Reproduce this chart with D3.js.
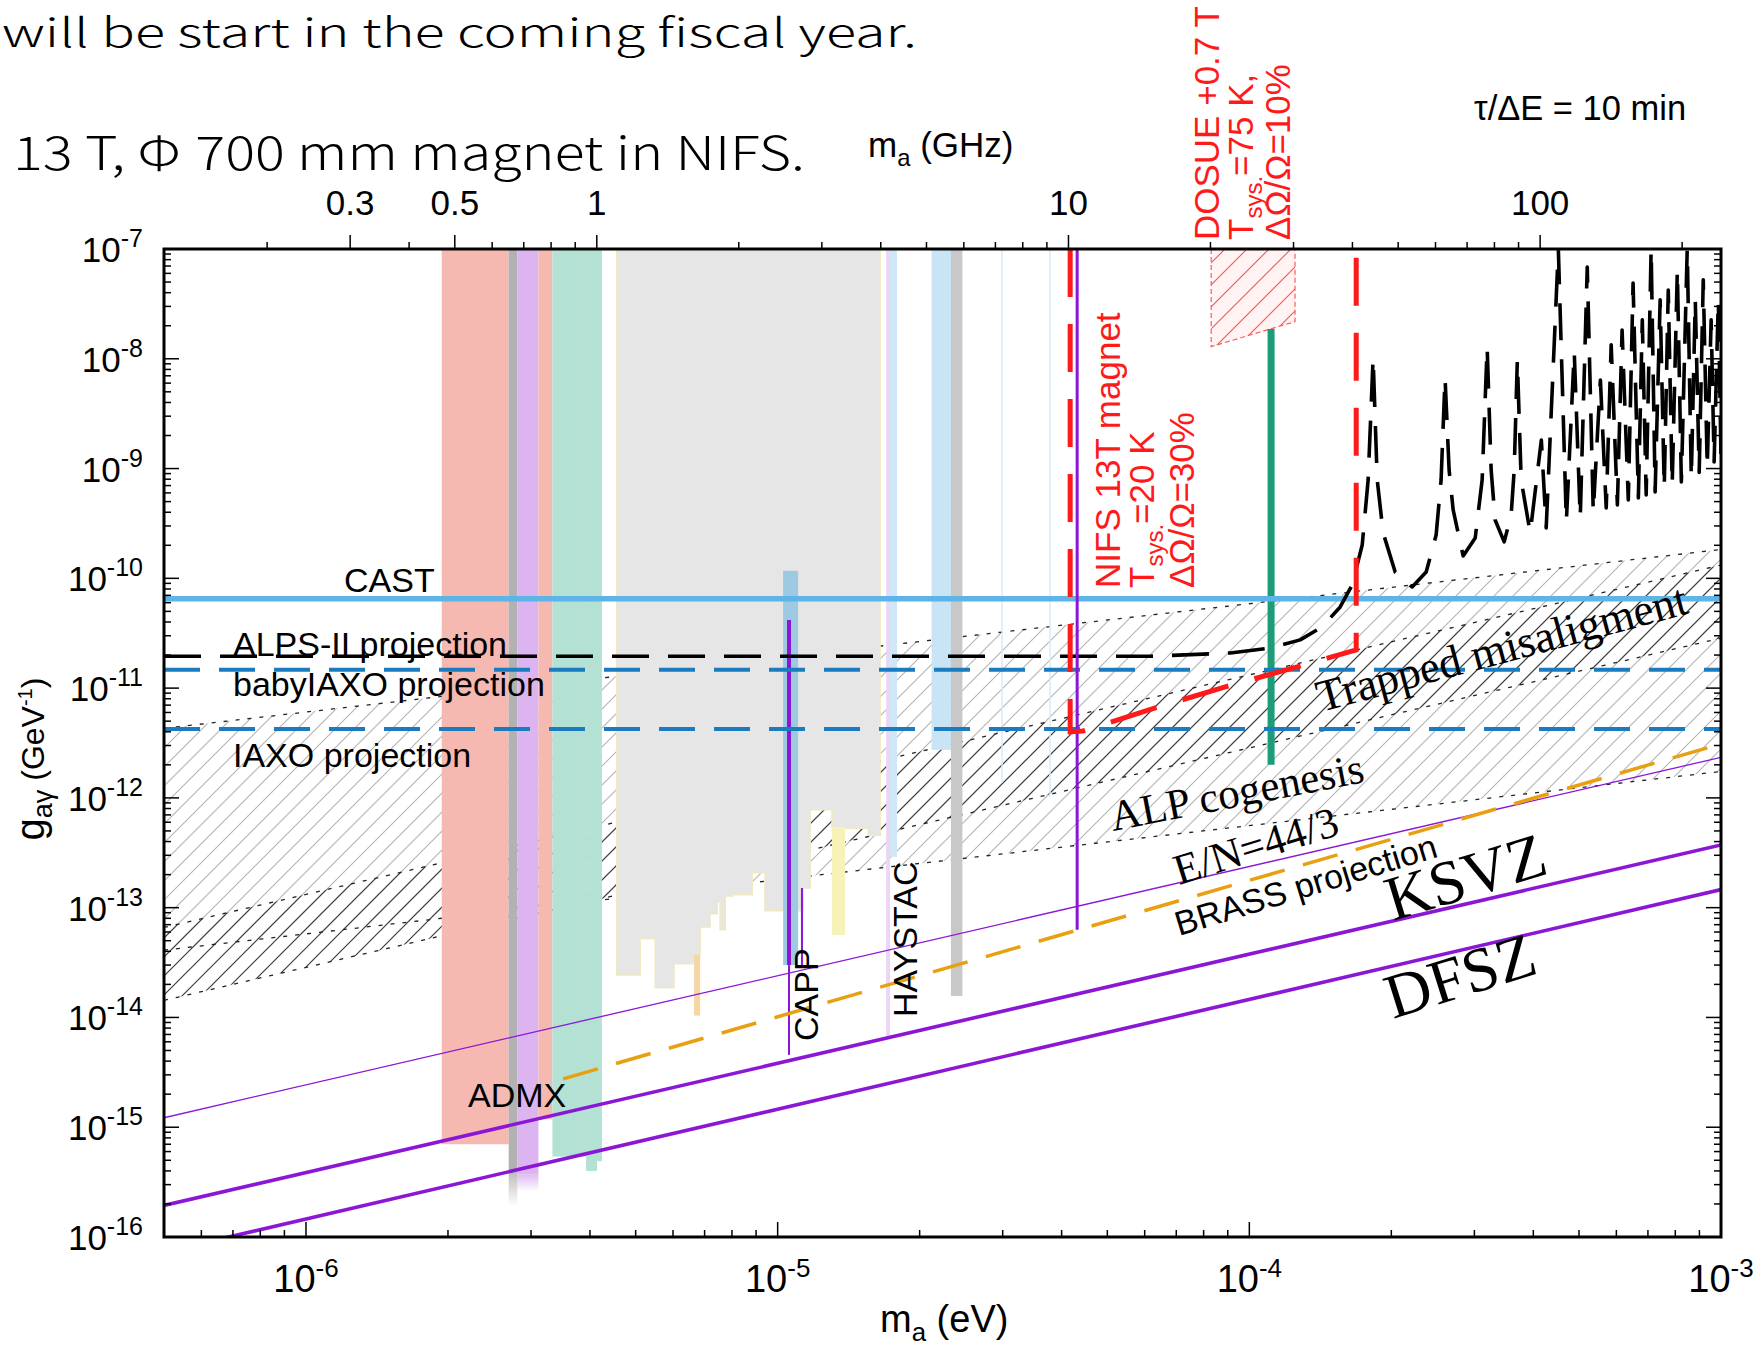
<!DOCTYPE html>
<html>
<head>
<meta charset="utf-8">
<title>Axion-photon coupling reach</title>
<script src="https://cdn.jsdelivr.net/npm/d3@7/dist/d3.min.js"></script>
<style>
  html,body{margin:0;padding:0;background:#fff;}
  svg{display:block;}
  .sans{font-family:"Liberation Sans",Arial,Helvetica,sans-serif;}
  .narrow{font-family:"Liberation Sans Narrow","Arial Narrow","Liberation Sans",sans-serif;}
  .serif{font-family:"Liberation Serif","Times New Roman",serif;}
  .jp{font-family:"Noto Sans CJK JP","Noto Sans",sans-serif;font-weight:300;}
</style>
</head>
<body>
<svg id="chart" width="1757" height="1346"></svg>
<script>
// ---------- axes ----------
const couplingDecades = [-7, -8, -9, -10, -11, -12, -13, -14, -15, -16];
const massDecades = [-6, -5, -4, -3];
const freqLabels = [0.3, 0.5, 1, 10, 100];
const EV_PER_GHZ = 4.1357e-6;

// ---------- haloscope exclusions near 1-4 ueV: [m_lo, m_hi, g_floor] ----------
const admxBands = [
  [1.94e-6, 2.69e-6, 7.0e-16],
  [2.69e-6, 2.805e-6, 4.0e-16],
  [2.805e-6, 3.11e-6, 3.7e-16],
  [3.11e-6, 3.33e-6, 1.18e-15],
  [3.33e-6, 3.925e-6, 5.4e-16],
  [3.925e-6, 4.14e-6, 4.0e-16],
  [4.14e-6, 4.24e-6, 4.9e-16]
];
const admxKinds = ["salmon", "grey", "lilac", "salmon", "teal", "teal", "teal"];
// faint tails below two of them: [m_lo, m_hi, g_from, g_to]
const admxTails = [
  [2.69e-6, 2.805e-6, 4.0e-16, 1.9e-16],
  [2.805e-6, 3.11e-6, 3.7e-16, 2.6e-16]
];
const admxTailKinds = ["grey", "lilac"];

// ---------- wide grey haloscope region, stepped floor ----------
const greyEdges = [4.56e-6, 5.11e-6, 5.50e-6, 6.03e-6, 6.65e-6, 6.85e-6, 7.19e-6, 7.44e-6, 7.55e-6,
  7.74e-6, 8.04e-6, 8.83e-6, 9.40e-6, 1.027e-5, 1.132e-5, 1.172e-5, 1.304e-5, 1.39e-5, 1.555e-5, 1.649e-5];
const greyFloor = [2.44e-14, 5.2e-14, 1.86e-14, 3.08e-14, 3.72e-14, 6.68e-14, 8.79e-14, 1.13e-13, 6.28e-14,
  1.28e-13, 1.31e-13, 2.08e-13, 9.35e-14, 9.35e-14, 1.51e-13, 7.78e-13, 5.29e-13, 5.29e-13, 4.56e-13];

// ---------- other haloscope strips: [m_lo, m_hi, g_top, g_floor] ----------
const strips = [
  [6.65e-6, 6.85e-6, 3.72e-14, 1.04e-14],
  [1.304e-5, 1.39e-5, 5.44e-13, 5.65e-14],
  [1.027e-5, 1.105e-5, 1.17e-10, 3.0e-14],
  [1.698e-5, 1.731e-5, 1e-7, 6.8e-15],
  [1.731e-5, 1.791e-5, 1e-7, 2.9e-13],
  [2.12e-5, 2.33e-5, 1e-7, 2.74e-12],
  [2.33e-5, 2.464e-5, 1e-7, 1.57e-14]
];
const stripKinds = ["orange", "yellow", "capp", "haystacPink", "haystacBlue", "blue", "grey2"];
// hairline exclusions: [m, g_top, g_floor]
const hairlines = [[2.99e-5, 1e-7, 1.37e-12], [3.78e-5, 1e-7, 1.02e-12]];

// ---------- CAPP traces: [m, g_top, g_floor] ----------
const cappMain = [1.057e-5, 4.18e-11, 3.0e-14];
const cappTail = [1.057e-5, 3.0e-14, 4.56e-15];
const cappSide = [1.126e-5, 1.51e-13, 3.0e-14];

// ---------- helioscope / LSW ----------
const castG = 6.5e-11;
const babyIaxoG = 1.47e-11;
const iaxoG = 4.25e-12;
const alpsMass = [5e-7, 6.16e-5, 9.11e-5, 1.107e-4, 1.282e-4, 1.427e-4, 1.558e-4, 1.652e-4, 1.735e-4, 1.786e-4,
  1.83e-4, 1.867e-4, 1.922e-4, 2.038e-4, 2.214e-4, 2.371e-4, 2.489e-4, 2.55e-4, 2.60e-4, 2.652e-4,
  2.705e-4, 2.84e-4, 3.012e-4, 3.116e-4, 3.193e-4, 3.256e-4, 3.32e-4, 3.47e-4, 3.59e-4, 3.644e-4,
  3.70e-4, 3.77e-4, 3.94e-4, 4.16e-4, 4.26e-4, 4.52e-4, 4.70e-4, 4.885e-4, 5.03e-4, 5.205e-4,
  5.36e-4, 5.55e-4, 5.71e-4, 5.85e-4, 6.03e-4, 6.17e-4, 6.36e-4, 6.51e-4, 6.68e-4, 6.81e-4,
  6.94e-4, 7.11e-4, 7.25e-4, 7.43e-4, 7.58e-4, 7.73e-4, 7.88e-4, 8.08e-4, 8.24e-4, 8.48e-4,
  8.65e-4, 8.82e-4, 8.99e-4, 9.17e-4, 9.35e-4, 9.53e-4, 9.67e-4, 9.87e-4, 1e-3];
const alpsG = [1.95e-11, 1.95e-11, 2.09e-11, 2.32e-11, 2.75e-11, 3.61e-11, 5.49e-11, 8.7e-11, 2.01e-10, 7.87e-10,
  1.02e-8, 7.87e-10, 2.59e-10, 1.14e-10, 8.35e-11, 1.14e-10, 2.48e-10, 7.87e-10, 6.68e-9, 9.7e-10,
  4.2e-10, 1.6e-10, 2.33e-10, 7.87e-10, 1.28e-8, 9.7e-10, 3.4e-10, 2.15e-10, 3.78e-10, 9.7e-10,
  9.75e-9, 7.87e-10, 2.59e-10, 1.82e-9, 2.88e-10, 1e-7, 3.27e-10, 1.15e-8, 3.55e-10, 6.86e-8,
  4.03e-10, 6.41e-9, 4.38e-10, 1.34e-8, 4.66e-10, 1.83e-8, 5.17e-10, 4.9e-8, 5.4e-10, 2.26e-8,
  5.75e-10, 1e-7, 6.12e-10, 3.44e-8, 6.65e-10, 4.23e-8, 7.1e-10, 6.44e-8, 7.55e-10, 1e-7,
  8.2e-10, 3.44e-8, 9.2e-10, 5.23e-8, 1.02e-9, 2.26e-8, 1.15e-9, 3.44e-8, 1.25e-9];

// ---------- model bands (log-log straight): values at the two mass ends ----------
const bandMass = [5e-7, 1e-3];
const trappedHi = [4.3e-12, 1.83e-10];
const trappedLo = [4.1e-14, 1.74e-12];
const cogenesisHi = [6.6e-14, 1.32e-10];
const cogenesisLo = [1.43e-14, 2.85e-11];
const ksvzG = [1.94e-16, 3.73e-13];
const dfszG = [7.3e-17, 1.46e-13];
const en443G = [1.22e-15, 2.34e-12];
const brassMass = [3.51e-6, 1e-3];
const brassG = [2.76e-15, 3.1e-12];

// ---------- projections of this proposal ----------
const nifsMass = [4.17e-5, 4.17e-5, 4.44e-5, 6.32e-5, 8.89e-5, 1.263e-4, 1.685e-4, 1.685e-4];
const nifsG = [1e-7, 3.99e-12, 4.07e-12, 6.6e-12, 1.026e-11, 1.56e-11, 2.23e-11, 1e-7];
const nifsLine = [4.315e-5, 1e-7, 6.28e-14];
const dosueMass = [8.3e-5, 1.25e-4];
const dosueFloor = [1.29e-8, 2.18e-8];
const dosueLine = [1.112e-4, 1.87e-8, 2.0e-12];

// ---------- drawing ----------
const L = 164, R = 1721, T = 249, B = 1237;
const x = d3.scaleLog().domain([5e-7, 1e-3]).range([L, R]);
const y = d3.scaleLog().domain([1e-7, 1e-16]).range([T, B]);

const colours = {
  salmon: "#f5b9b2", grey: "#b2b2b2", lilac: "#dcb4f0", teal: "#b3e1d4",
  orange: "#f6d6a4", yellow: "#f7f2b8", capp: "#9dcae2", haystacPink: "#ecd6f6",
  haystacBlue: "#cfe7f6", blue: "#c9e4f4", grey2: "#c8c8c8", region: "#e6e6e6",
  purple: "#8b16d6", red: "#ff1a1a", green: "#1b9e77", cast: "#5db4e6",
  iaxo: "#1a7bbf", brass: "#e8a010", hairline: "#d6ebf8"
};

const svg = d3.select("#chart");
const defs = svg.append("defs");
defs.append("clipPath").attr("id", "plotClip")
  .append("rect").attr("x", L).attr("y", T).attr("width", R - L).attr("height", B - T);

function hatch(id, colour, width, step, bg) {
  const p = defs.append("pattern").attr("id", id)
    .attr("patternUnits", "userSpaceOnUse").attr("width", step).attr("height", step);
  if (bg) p.append("rect").attr("width", step).attr("height", step).attr("fill", bg);
  p.append("path")
    .attr("d", `M-2,2 L2,-2 M0,${step} L${step},0 M${step - 2},${step + 2} L${step + 2},${step - 2}`)
    .attr("stroke", colour).attr("stroke-width", width).attr("fill", "none");
}
hatch("hatchLight", "#b4b4b4", 1.1, 19);
hatch("hatchDark", "#3c3c3c", 1.2, 19);
hatch("hatchRed", "#ff5050", 1.1, 22, "#fff3f3");

["grey", "lilac"].forEach(k => {
  const g = defs.append("linearGradient").attr("id", "fade-" + k)
    .attr("x1", 0).attr("y1", 0).attr("x2", 0).attr("y2", 1);
  g.append("stop").attr("offset", "0%").attr("stop-color", colours[k]).attr("stop-opacity", 0.9);
  g.append("stop").attr("offset", "100%").attr("stop-color", colours[k]).attr("stop-opacity", 0);
});

const plot = svg.append("g").attr("clip-path", "url(#plotClip)");
const lineGen = d3.line().x(d => x(d[0])).y(d => y(d[1]));
const areaGen = d3.area().x(d => x(d[0])).y0(d => y(d[1])).y1(d => y(d[2]));
const zip = (ms, a, b) => ms.map((m, i) => b ? [m, a[i], b[i]] : [m, a[i]]);

// cosmology bands (hatched, dotted borders)
plot.append("path").datum(zip(bandMass, trappedLo, trappedHi)).attr("d", areaGen).attr("fill", "url(#hatchLight)");
plot.append("path").datum(zip(bandMass, cogenesisLo, cogenesisHi)).attr("d", areaGen).attr("fill", "url(#hatchDark)");
[trappedHi, trappedLo, cogenesisHi, cogenesisLo].forEach(arr => {
  plot.append("path").datum(zip(bandMass, arr)).attr("d", lineGen)
    .attr("fill", "none").attr("stroke", "#222").attr("stroke-width", 1.3).attr("stroke-dasharray", "4,8");
});

// grey haloscope region with stepped floor
const greyPts = [[greyEdges[0], 1e-7]];
greyFloor.forEach((g, i) => { greyPts.push([greyEdges[i], g]); greyPts.push([greyEdges[i + 1], g]); });
greyPts.push([greyEdges[greyEdges.length - 1], 1e-7]);
plot.append("path").attr("d", lineGen(greyPts) + "Z")
  .attr("fill", colours.region).attr("stroke", "#efe9c2").attr("stroke-width", 1.5);

// ADMX-type bands
admxBands.forEach((b, i) => {
  plot.append("rect").attr("x", x(b[0])).attr("width", x(b[1]) - x(b[0]))
    .attr("y", y(1e-7)).attr("height", y(b[2]) - y(1e-7)).attr("fill", colours[admxKinds[i]]);
});
admxTails.forEach((b, i) => {
  plot.append("rect").attr("x", x(b[0])).attr("width", x(b[1]) - x(b[0]))
    .attr("y", y(b[2])).attr("height", y(b[3]) - y(b[2])).attr("fill", `url(#fade-${admxTailKinds[i]})`);
});
strips.forEach((b, i) => {
  plot.append("rect").attr("x", x(b[0])).attr("width", x(b[1]) - x(b[0]))
    .attr("y", y(b[2])).attr("height", y(b[3]) - y(b[2])).attr("fill", colours[stripKinds[i]]);
});
hairlines.forEach(h => {
  plot.append("line").attr("x1", x(h[0])).attr("x2", x(h[0])).attr("y1", y(h[1])).attr("y2", y(h[2]))
    .attr("stroke", colours.hairline).attr("stroke-width", 1.5);
});

// CAPP traces
function vline(v, colour, w, dash) {
  const l = plot.append("line").attr("x1", x(v[0])).attr("x2", x(v[0]))
    .attr("y1", y(v[1])).attr("y2", y(v[2])).attr("stroke", colour).attr("stroke-width", w);
  if (dash) l.attr("stroke-dasharray", dash);
  return l;
}
vline(cappMain, colours.purple, 4);
vline(cappTail, colours.purple, 2);
vline(cappSide, colours.purple, 2);

// DOSUE hatched box and green reach line
const dosuePts = [[dosueMass[0], 1e-7], [dosueMass[0], dosueFloor[0]], [dosueMass[1], dosueFloor[1]], [dosueMass[1], 1e-7]];
plot.append("path").attr("d", lineGen(dosuePts) + "Z").attr("fill", "url(#hatchRed)")
  .attr("stroke", "#ff5a5a").attr("stroke-width", 1.2).attr("stroke-dasharray", "5,3");
vline(dosueLine, colours.green, 7);

// helioscope / LSW horizontals
function hline(g, colour, w, dash) {
  const l = plot.append("line").attr("x1", L).attr("x2", R).attr("y1", y(g)).attr("y2", y(g))
    .attr("stroke", colour).attr("stroke-width", w);
  if (dash) l.attr("stroke-dasharray", dash);
}
hline(castG, colours.cast, 5.5);
hline(iaxoG, colours.iaxo, 4, "36,19");
hline(babyIaxoG, colours.iaxo, 4, "36,19");
plot.append("path").datum(zip(alpsMass, alpsG)).attr("d", lineGen)
  .attr("fill", "none").attr("stroke", "#000").attr("stroke-width", 3.6)
  .attr("stroke-dasharray", "37,19").attr("stroke-linejoin", "round");

// QCD axion lines and BRASS
plot.append("path").datum(zip(bandMass, ksvzG)).attr("d", lineGen).attr("stroke", colours.purple).attr("stroke-width", 3.6).attr("fill", "none");
plot.append("path").datum(zip(bandMass, dfszG)).attr("d", lineGen).attr("stroke", colours.purple).attr("stroke-width", 3.6).attr("fill", "none");
plot.append("path").datum(zip(bandMass, en443G)).attr("d", lineGen).attr("stroke", colours.purple).attr("stroke-width", 1.3).attr("fill", "none");
plot.append("path").datum(zip(brassMass, brassG)).attr("d", lineGen).attr("stroke", colours.brass)
  .attr("stroke-width", 3.5).attr("stroke-dasharray", "36,19").attr("fill", "none");

// NIFS projection
vline(nifsLine, colours.purple, 3);
plot.append("path").datum(zip(nifsMass, nifsG)).attr("d", lineGen)
  .attr("fill", "none").attr("stroke", colours.red).attr("stroke-width", 5)
  .attr("stroke-dasharray", "48,27");

// ---------- frame & ticks ----------
const axes = svg.append("g");
axes.append("rect").attr("x", L).attr("y", T).attr("width", R - L).attr("height", B - T)
  .attr("fill", "none").attr("stroke", "#000").attr("stroke-width", 3);

const gTicks = [];
for (let e = -16; e <= -7; e++) for (let k = 1; k <= 9; k++) {
  const v = k * Math.pow(10, e);
  if (v <= 1.0000001e-7) gTicks.push([v, k === 1]);
}
gTicks.forEach(([v, major]) => {
  const len = major ? 15 : 7;
  axes.append("line").attr("x1", L).attr("x2", L + len).attr("y1", y(v)).attr("y2", y(v)).attr("stroke", "#000").attr("stroke-width", 1.5);
  axes.append("line").attr("x1", R).attr("x2", R - len).attr("y1", y(v)).attr("y2", y(v)).attr("stroke", "#000").attr("stroke-width", 1.5);
});
const mTicks = [];
for (let e = -7; e <= -3; e++) for (let k = 1; k <= 9; k++) {
  const v = k * Math.pow(10, e);
  if (v >= 5e-7 * 0.999 && v <= 1e-3 * 1.0001) mTicks.push([v, k === 1]);
}
mTicks.forEach(([v, major]) => {
  const len = major ? 15 : 7;
  axes.append("line").attr("x1", x(v)).attr("x2", x(v)).attr("y1", B).attr("y2", B - len).attr("stroke", "#000").attr("stroke-width", 1.5);
});
const fTicks = [];
for (let e = -1; e <= 2; e++) for (let k = 1; k <= 9; k++) {
  const f = k * Math.pow(10, e);
  const m = f * EV_PER_GHZ;
  if (m >= 5e-7 && m <= 1e-3) fTicks.push(f);
}
fTicks.forEach(f => {
  const major = freqLabels.some(v => Math.abs(v - f) < 1e-9);
  const len = major ? 14 : 7;
  const px = x(f * EV_PER_GHZ);
  axes.append("line").attr("x1", px).attr("x2", px).attr("y1", T).attr("y2", T - len).attr("stroke", "#000").attr("stroke-width", 1.5);
});

function powLabel(px, py, exp, anchor, size, supSize, rise, cls) {
  const t = axes.append("text").attr("class", cls || "sans").attr("x", px).attr("y", py)
    .attr("text-anchor", anchor).attr("font-size", size);
  t.append("tspan").text("10");
  t.append("tspan").attr("dy", -rise).attr("font-size", supSize).text(String(exp));
}
couplingDecades.forEach(e => powLabel(143, y(Math.pow(10, e)) + 13, e, "end", 35, 25, 15));
massDecades.forEach(e => powLabel(x(Math.pow(10, e)), 1292, e, "middle", 38, 26, 15, "narrow"));
freqLabels.forEach(f => {
  axes.append("text").attr("class", "sans").attr("x", x(f * EV_PER_GHZ)).attr("y", 215)
    .attr("text-anchor", "middle").attr("font-size", 35).text(String(f));
});

// axis titles
function subLabel(px, py, main, sub, rest, size, cls) {
  const t = svg.append("text").attr("class", cls || "sans").attr("x", px).attr("y", py).attr("font-size", size);
  t.append("tspan").text(main);
  t.append("tspan").attr("dy", 9).attr("font-size", size * 0.68).text(sub);
  t.append("tspan").attr("dy", -9).text(rest);
  return t;
}
subLabel(868, 157, "m", "a", " (GHz)", 35);
subLabel(880, 1332, "m", "a", "  (eV)", 38, "narrow");
svg.append("text").attr("class", "sans").attr("x", 1474).attr("y", 120).attr("font-size", 34.5).text("τ/ΔE = 10 min");

const yl = svg.append("text").attr("class", "narrow").attr("transform", "translate(44,759) rotate(-90)")
  .attr("text-anchor", "middle").attr("font-size", 40);
yl.append("tspan").text("g");
yl.append("tspan").attr("dy", 8).attr("font-size", 27).text("aγ");
yl.append("tspan").attr("dy", -8).attr("font-size", 32).text(" (GeV");
yl.append("tspan").attr("dy", -12).attr("font-size", 20).text("-1");
yl.append("tspan").attr("dy", 12).attr("font-size", 32).text(")");

// ---------- in-plot labels ----------
const lab = svg.append("g");
function plain(px, py, str, size, cls, rot, colour) {
  return lab.append("text").attr("class", cls || "sans").attr("font-size", size)
    .attr("transform", `translate(${px},${py}) rotate(${rot || 0})`)
    .attr("fill", colour || "#000").text(str);
}
plain(344, 592, "CAST", 34);
plain(233, 656, "ALPS-II projection", 34);
plain(233, 696, "babyIAXO projection", 34);
plain(233, 767, "IAXO projection", 34);
plain(468, 1107, "ADMX", 34);
plain(818, 1041, "CAPP", 34, "sans", -90);
plain(917, 1017, "HAYSTAC", 34, "sans", -90);
plain(1321, 712, "Trapped misaligment", 45, "serif", -15);
plain(1113, 831, "ALP cogenesis", 43, "serif", -11);
plain(1179, 885, "E/N=44/3", 43, "serif", -17.4);
plain(1179, 936, "BRASS projection", 34, "sans", -17);
plain(1393, 921, "KSVZ", 63, "serif", -17);
plain(1393, 1019, "DFSZ", 63, "serif", -17.5);

// red projection captions (rotated, three lines)
function redBlock(px, py, lines) {
  const t = lab.append("text").attr("class", "sans").attr("font-size", 35).attr("fill", colours.red)
    .attr("transform", `translate(${px},${py}) rotate(-90)`);
  lines.forEach(([offset, parts]) => {
    let first = true;
    parts.forEach(([str, kind]) => {
      const s = t.append("tspan").text(str);
      if (first) { s.attr("x", 0).attr("y", offset); first = false; }
      if (kind === "sub") s.attr("font-size", 24).attr("dy", 9);
      if (kind === "back") s.attr("dy", -9);
    });
  });
}
redBlock(1120, 588, [
  [0, [["NIFS 13T magnet"]]],
  [34, [["T"], ["sys.", "sub"], ["=20 K", "back"]]],
  [74, [["ΔΩ/Ω=30%"]]]
]);
redBlock(1219, 240, [
  [0, [["DOSUE +0.7 T"]]],
  [34, [["T"], ["sys.", "sub"], ["=75 K,", "back"]]],
  [71, [["ΔΩ/Ω=10%"]]]
]);

// slide text above the plot
svg.append("text").attr("class", "jp").attr("x", 2).attr("y", 47).attr("font-size", 40)
  .attr("textLength", 915).attr("lengthAdjust", "spacingAndGlyphs")
  .text("will be start in the coming fiscal year.");
const t2 = svg.append("text").attr("class", "jp").attr("x", 13).attr("y", 170).attr("font-size", 46)
  .attr("textLength", 792).attr("lengthAdjust", "spacingAndGlyphs");
t2.append("tspan").text("13 T, Φ");
t2.append("tspan").attr("dx", 12).text("700 mm magnet in NIFS.");
</script>
</body>
</html>
